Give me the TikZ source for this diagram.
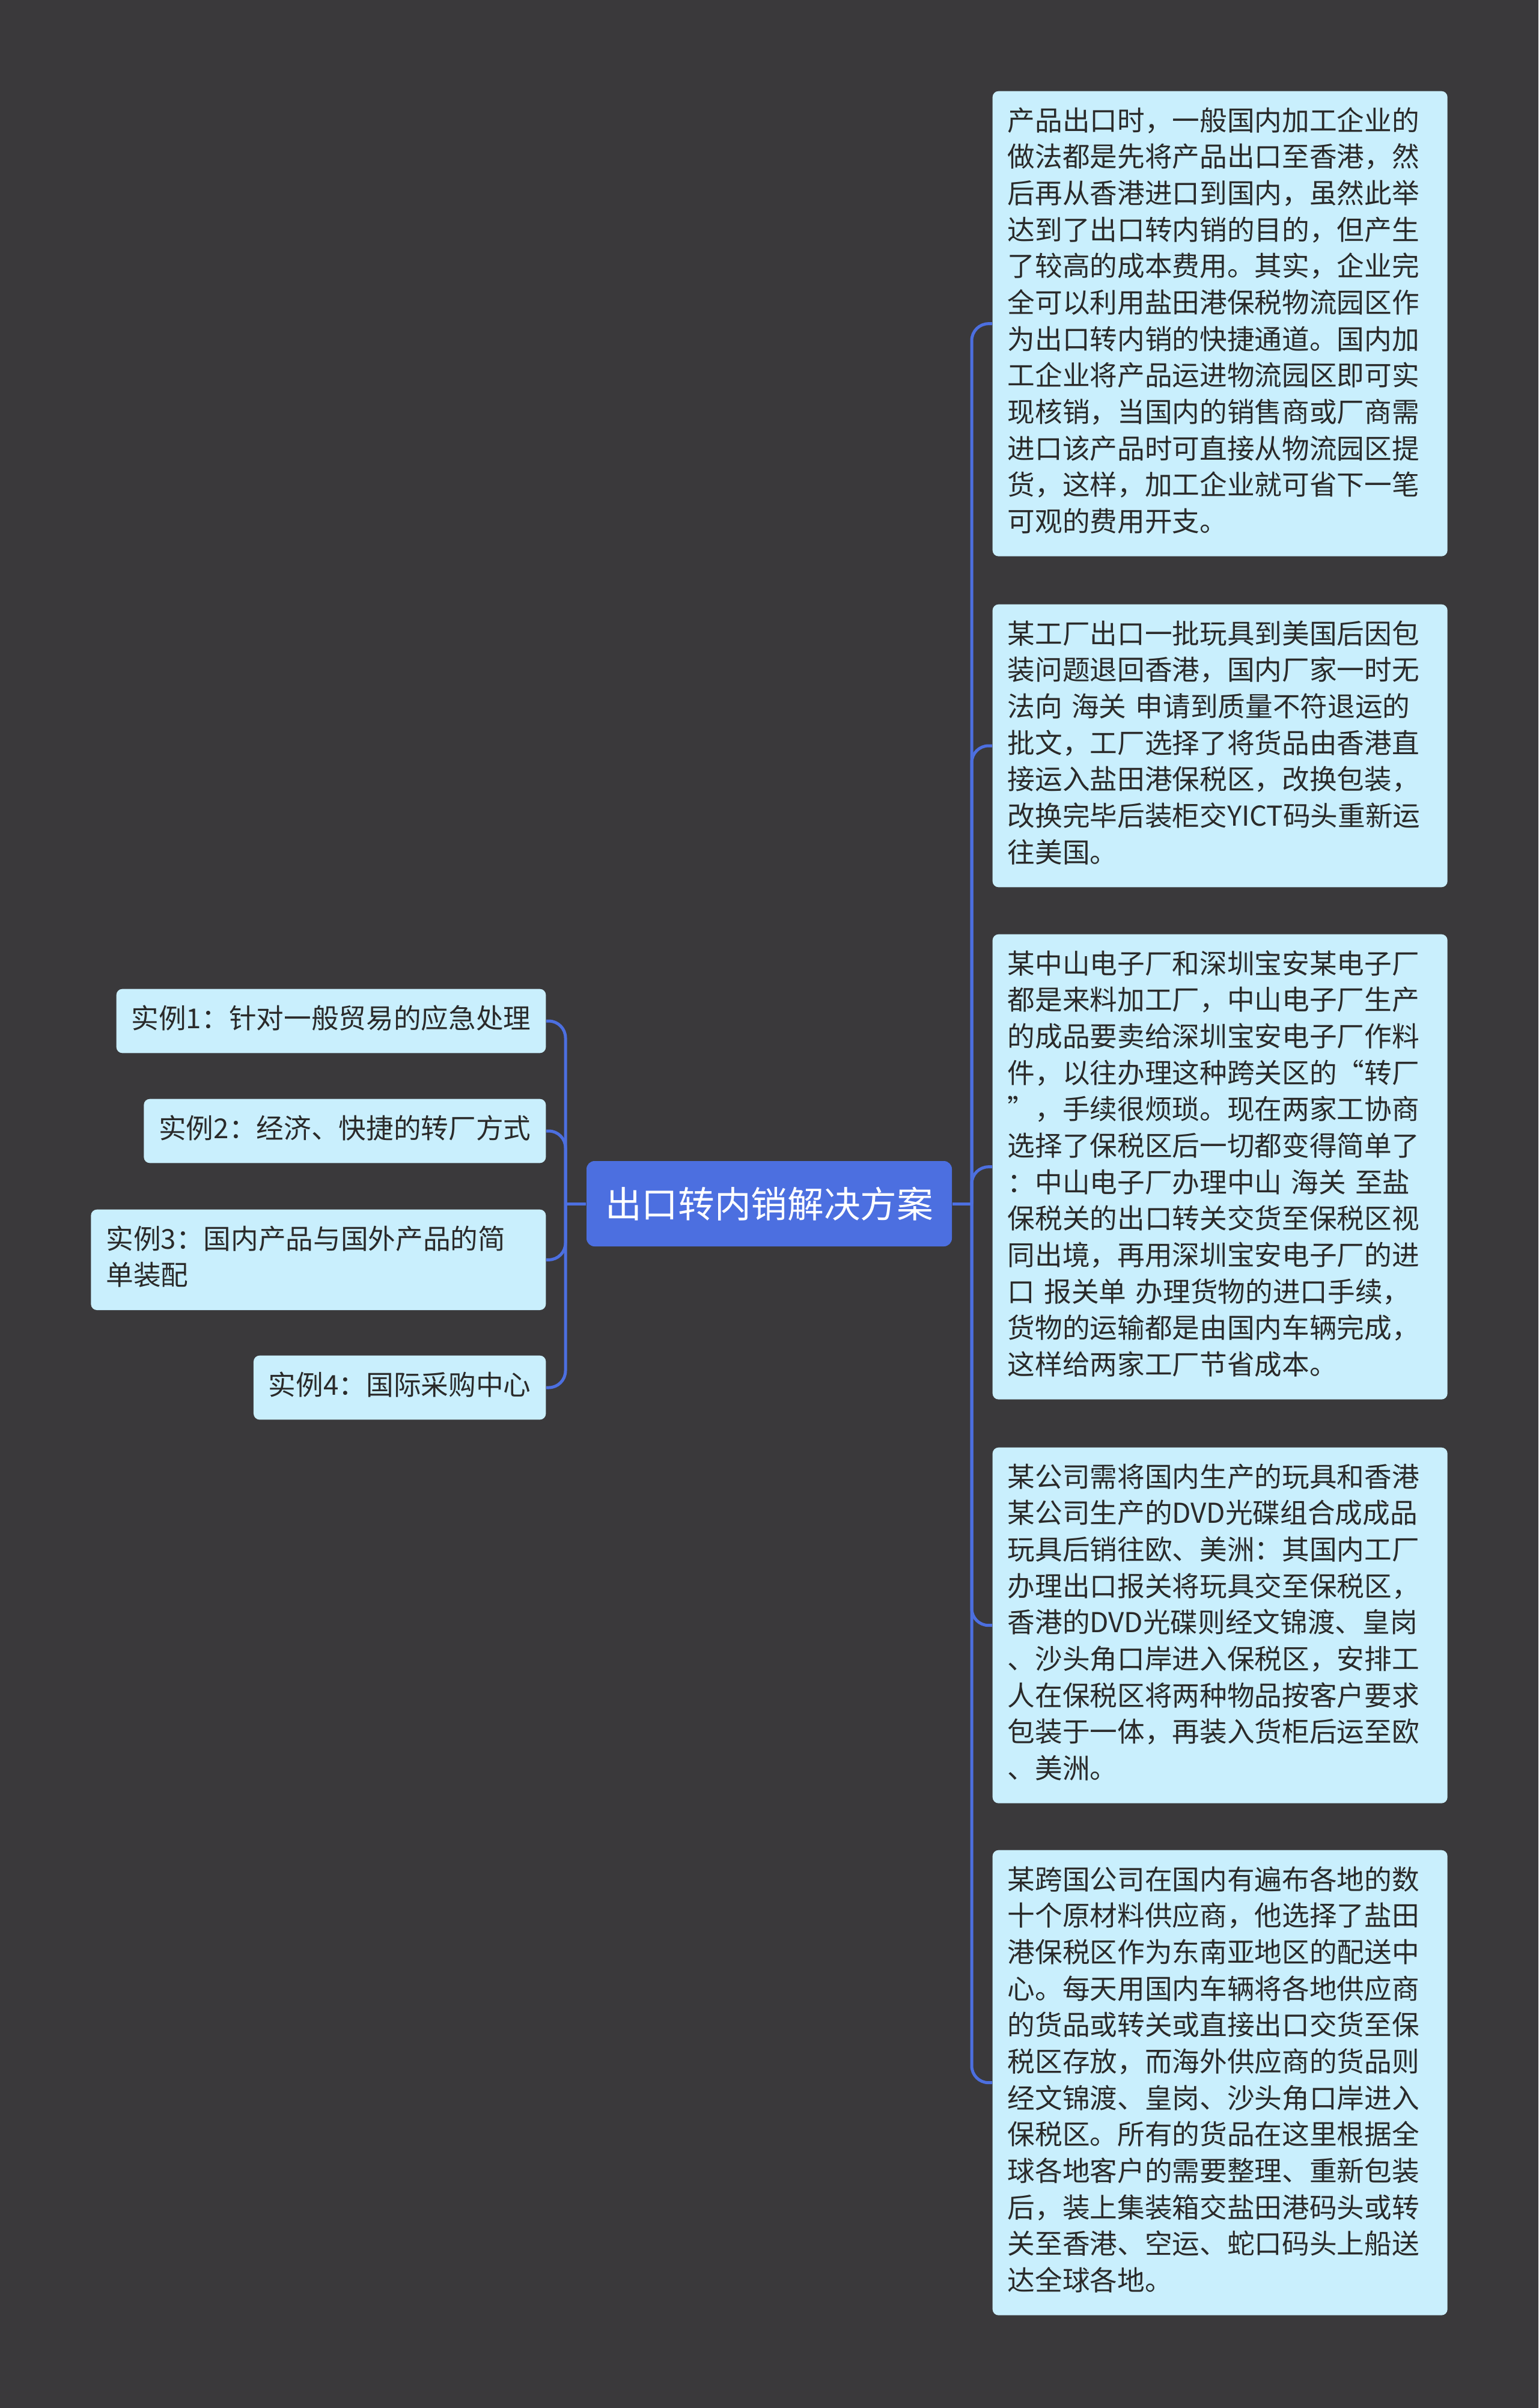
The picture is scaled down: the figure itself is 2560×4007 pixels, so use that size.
\documentclass[tikz,border=0pt]{standalone}
\usepackage{fontspec}
\setmainfont{Noto Sans CJK SC}
\definecolor{bgcol}{HTML}{3A393B}
\definecolor{leaffill}{HTML}{C9EFFD}
\definecolor{leaftext}{HTML}{2A2A2A}
\definecolor{rootblue}{HTML}{4C6FE0}
\definecolor{linkblue}{HTML}{4C6FE0}
\tikzset{
  leaf/.style={fill=leaffill, rounded corners=3pt, text=leaftext,
    font=\fontsize{13.7}{18.2}\selectfont, inner xsep=7.5pt, inner ysep=6.9pt, align=left},
  rleaf/.style={leaf, text width=212.1pt, anchor=north west},
  lleaf/.style={leaf, anchor=north east},
  root/.style={fill=rootblue, rounded corners=4pt, text=white,
    font=\fontsize{18.2}{24}\selectfont, minimum width=182.4pt, minimum height=42.6pt, inner sep=0pt},
  conn/.style={draw=linkblue, line width=1.5pt},
  branchline/.style={conn, rounded corners=8.4pt}
}
\begin{document}
\begin{tikzpicture}[x=0.3pt,y=-0.3pt]
\fill[bgcol] (0,0) rectangle (2560,4007);
\useasboundingbox (0,0) rectangle (2560,4007);

\node[root] (c) at (1280,2003) {出口转内销解决方案};

\node[rleaf] (r1) at (1651,151) {\strut 产品出口时，一般国内加工企业的\\做法都是先将产品出口至香港，然\\后再从香港进口到国内，虽然此举\\达到了出口转内销的目的，但产生\\了较高的成本费用。其实，企业完\\全可以利用盐田港保税物流园区作\\为出口转内销的快捷通道。国内加\\工企业将产品运进物流园区即可实\\现核销，当国内的销售商或厂商需\\进口该产品时可直接从物流园区提\\货，这样，加工企业就可省下一笔\\可观的费用开支。\strut};

\node[rleaf] (r2) at (1651,1005) {\strut 某工厂出口一批玩具到美国后因包\\装问题退回香港，国内厂家一时无\\法向 海关 申请到质量不符退运的\\批文，工厂选择了将货品由香港直\\接运入盐田港保税区，改换包装，\\改换完毕后装柜交YICT码头重新运\\往美国。\strut};

\node[rleaf] (r3) at (1651,1554) {\strut 某中山电子厂和深圳宝安某电子厂\\都是来料加工厂，中山电子厂生产\\的成品要卖给深圳宝安电子厂作料\\件，以往办理这种跨关区的“转厂\\”，手续很烦琐。现在两家工协商\\选择了保税区后一切都变得简单了\\：中山电子厂办理中山 海关 至盐\\保税关的出口转关交货至保税区视\\同出境，再用深圳宝安电子厂的进\\口 报关单 办理货物的进口手续，\\货物的运输都是由国内车辆完成，\\这样给两家工厂节省成本。\strut};

\node[rleaf] (r4) at (1651,2408) {\strut 某公司需将国内生产的玩具和香港\\某公司生产的DVD光碟组合成成品\\玩具后销往欧、美洲：其国内工厂\\办理出口报关将玩具交至保税区，\\香港的DVD光碟则经文锦渡、皇岗\\、沙头角口岸进入保税区，安排工\\人在保税区将两种物品按客户要求\\包装于一体，再装入货柜后运至欧\\、美洲。\strut};

\node[rleaf] (r5) at (1651,3078) {\strut 某跨国公司在国内有遍布各地的数\\十个原材料供应商，他选择了盐田\\港保税区作为东南亚地区的配送中\\心。每天用国内车辆将各地供应商\\的货品或转关或直接出口交货至保\\税区存放，而海外供应商的货品则\\经文锦渡、皇岗、沙头角口岸进入\\保税区。所有的货品在这里根据全\\球各地客户的需要整理、重新包装\\后，装上集装箱交盐田港码头或转\\关至香港、空运、蛇口码头上船送\\达全球各地。\strut};

\node[lleaf] (l1) at (909,1645) {\strut 实例1：针对一般贸易的应急处理};
\node[lleaf] (l2) at (909,1828) {\strut 实例2：经济、快捷的转厂方式};
\node[lleaf, text width=212.1pt] (l3) at (909,2012) {\strut 实例3：国内产品与国外产品的简\\单装配\strut};
\node[lleaf] (l4) at (909,2255) {\strut 实例4：国际采购中心};

\coordinate (rt) at (1617,0);
\coordinate (lt) at (941,0);

\draw[conn] (c.east) -- (c.east -| rt);
\foreach \n in {r1,r2,r3,r4,r5}
  \draw[branchline] (c.east -| rt) |- (\n.west);

\draw[conn] (c.west) -- (c.west -| lt);
\foreach \n in {l1,l2,l3,l4}
  \draw[branchline] (c.west -| lt) |- (\n.east);
\end{tikzpicture}
\end{document}
